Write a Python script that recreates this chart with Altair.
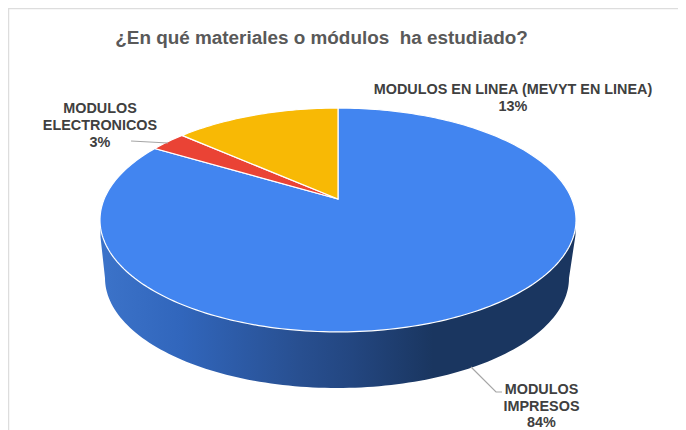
import math
import altair as alt

TITLE = "¿En qué materiales o módulos\u00a0 ha estudiado?"
CATEGORIES = ["MODULOS IMPRESOS", "MODULOS ELECTRONICOS", "MODULOS EN LINEA (MEVYT EN LINEA)"]
SHARES = [83.56, 2.95, 13.49]
COLORS = ["#4285F0", "#EA4335", "#F8B905"]

# Perspective of the tilted disc, in picture pixels
APEX_X, APEX_Y, A, B, K = 338.0, 199.0, 233.8, 108.0, 0.1875
BASE_X, BASE_Y, BASE_RX, BASE_RY = 337.0, 278.0, 232.0, 110.0


def rim(theta):
    u, v = math.sin(theta), math.cos(theta)
    d = 1 + K * v
    return [APEX_X + A * u / d, APEX_Y - B * v / d]


def feature(name, kind, coords):
    return {"type": "Feature", "properties": {"name": name},
            "geometry": {"type": kind, "coordinates": coords}}


def geo(features):
    return alt.InlineData(values={"type": "FeatureCollection", "features": features},
                          format=alt.DataFormat(property="features", type="json"))


# Slices run clockwise from the top, first category first
sectors = []
start = 0.0
for name, share in zip(CATEGORIES, SHARES):
    end = start + share / 100 * 2 * math.pi
    n = max(2, int(share * 3))
    ring = [[APEX_X, APEX_Y]] + [rim(start + (end - start) * i / n) for i in range(n + 1)] + [[APEX_X, APEX_Y]]
    sectors.append(feature(name, "Polygon", [ring]))
    start = end

wall_ring = [[100.5, 220.0], [100.5, 237.0]]
for i in range(121):
    t = math.pi * i / 120
    wall_ring.append([BASE_X - BASE_RX * math.cos(t), BASE_Y + BASE_RY * math.sin(t)])
wall_ring += [[575.5, 235.0], [575.5, 220.0], [100.5, 220.0]]

PROJ = dict(type="identity", scale=1, translate=[-8, -8])

wall_fill = alt.Gradient(
    gradient="linear", x1=0, x2=1, y1=0, y2=0,
    stops=[
        alt.GradientStop(offset=0.0, color="#3C73C9"),
        alt.GradientStop(offset=0.17, color="#3166BC"),
        alt.GradientStop(offset=0.42, color="#284F90"),
        alt.GradientStop(offset=0.53, color="#234680"),
        alt.GradientStop(offset=0.70, color="#1A3660"),
        alt.GradientStop(offset=1.0, color="#1A3660"),
    ],
)

wall = alt.Chart(geo([feature("wall", "Polygon", [wall_ring])])).mark_geoshape(
    fill=wall_fill, strokeWidth=0).project(**PROJ)

top = alt.Chart(geo(sectors)).mark_geoshape(stroke="white", strokeWidth=1.2).encode(
    color=alt.Color("properties.name:N", legend=None,
                    scale=alt.Scale(domain=CATEGORIES, range=COLORS))
).project(**PROJ)

leaders = alt.Chart(geo([
    feature("a", "LineString", [[131, 141], [168, 143]]),
    feature("b", "LineString", [[471, 367], [496, 392], [502, 392]]),
])).mark_geoshape(filled=False, stroke="#A6A6A6", strokeWidth=1.2).project(**PROJ)

frame = alt.Chart(geo([
    feature("frame", "LineString", [[8.5, 440], [8.5, 8.5], [688, 8.5]]),
])).mark_geoshape(filled=False, stroke="#DDDDDD", strokeWidth=1.5).project(**PROJ)


def text(label, x, y, size=14.4, color="#404040", weight="bold"):
    return alt.Chart(alt.Data(values=[{"t": label}])).mark_text(
        font="Liberation Sans", fontSize=size, fontWeight=weight, color=color,
        align="center", baseline="middle",
    ).encode(text="t:N", x=alt.value(x - 8), y=alt.value(y - 8))


pct = [f"{round(s)}%" for s in SHARES]
texts = [
    text(TITLE, 321.5, 37.5, size=18.9, color="#595959"),
    text("MODULOS", 100, 109), text("ELECTRONICOS", 100, 126), text(pct[1], 100, 143),
    text(CATEGORIES[2], 513, 90), text(pct[2], 513, 107),
    text("MODULOS", 541.5, 390), text("IMPRESOS", 541.5, 406.5), text(pct[0], 541.5, 422.5),
]

chart = alt.layer(frame, wall, top, leaders, *texts).properties(
    width=670, height=422, padding=0, autosize=alt.AutoSizeParams(type="none"),
    background="white",
).configure_view(stroke=None)

chart.save("out.html", embed_options={"renderer": "svg", "actions": False})
